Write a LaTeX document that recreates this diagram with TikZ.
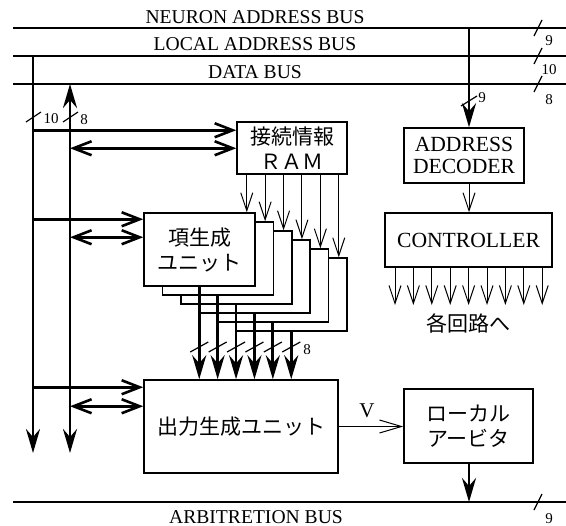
\documentclass[tikz,border=0pt]{standalone}
\usepackage{fontspec}
\setmainfont{Liberation Serif}
\newfontfamily\jp{Noto Sans CJK JP}
\usetikzlibrary{positioning, arrows.meta}

\tikzset{
  box/.style={draw, line width=0.75pt, fill=white, inner sep=0pt, align=center},
  jpbox/.style={box, font={\jp\fontsize{10.5}{12.5}\selectfont}},
  enbox/.style={box, font={\fontsize{10.8}{11}\selectfont}},
  busline/.style={line width=1.4pt},
  fat/.style={line width=1.4pt, -{Stealth[length=12pt,width=7pt,inset=4pt]}},
  fatboth/.style={line width=1.4pt, {Stealth[length=12pt,width=7pt,inset=4pt]}-{Stealth[length=12pt,width=7pt,inset=4pt]}},
  fatbar/.style={line width=1.3pt, -{Straight Barb[length=9pt,width=7pt]}},
  fatbarboth/.style={line width=1.3pt, {Straight Barb[length=9pt,width=7pt]}-{Straight Barb[length=9pt,width=7pt]}},
  thinarr/.style={line width=0.5pt, -{Straight Barb[length=9pt,width=6pt]}},
  tick/.style={line width=0.6pt},
  num/.style={font={\fontsize{7.5}{8}\selectfont}, inner sep=0pt},
  buslabel/.style={font={\fontsize{9.8}{11}\selectfont}, inner sep=0pt},
}

\begin{document}
\begin{tikzpicture}[x=0.5pt, y=-0.5pt]
\useasboundingbox (0,0) rectangle (566,525);

% Bus
\coordinate (nab-w) at (13,28);  \coordinate (nab-e) at (566,28);
\coordinate (lab-w) at (13,56);  \coordinate (lab-e) at (566,56);
\coordinate (db-w) at (13,84);   \coordinate (db-e) at (566,84);
\coordinate (arb-w) at (13,502); \coordinate (arb-e) at (566,502);
\foreach \b in {nab,lab,db,arb}
    \draw[busline] (\b-w) -- (\b-e);

\node[buslabel] (nab-t) at (255,17) {NEURON ADDRESS BUS};
\node[buslabel] (lab-t) at (255,44) {LOCAL ADDRESS BUS};
\node[buslabel] (db-t) at (255,72) {DATA BUS};
\node[buslabel] (arb-t) at (256,517) {ARBITRETION BUS};

% bus widths
\foreach \y/\n/\ny [count=\i] in {28/9/41, 56/10/70, 84/8/100, 502/9/519} {
    \draw[tick] (538,\y) +(-4,8) -- +(4,-8);
    \node[num] (bw\i) at (549,\ny) {\n};
}

% Blocks
\node[jpbox, minimum width=55pt, minimum height=26pt] (ram) at (292,148) {接続情報\\ＲＡＭ};
\foreach \k in {5,4,...,1}
    \node[box, minimum width=55.5pt, minimum height=36.5pt] (u\k) at (199.5+18.4*\k, 249.5+9*\k) {};
\node[jpbox, minimum width=55.5pt, minimum height=36.5pt] (u0) at (199.5,249.5) {項生成\\ユニット};
\node[jpbox, minimum width=97pt, minimum height=46.5pt] (out) at (241,426.5) {出力生成ユニット};
\node[jpbox, minimum width=64.5pt, minimum height=37pt] (arb) at (468.5,426) {ローカル\\アービタ};
\node[enbox, minimum width=60pt, minimum height=27.5pt] (dec) at (464,155.5) {ADDRESS\\DECODER};
\node[enbox, minimum width=83.5pt, minimum height=27pt] (ctrl) at (468.5,240) {CONTROLLER};
\node[font={\jp\fontsize{10.5}{12}\selectfont}, inner sep=0pt] (dest) at (468,323) {各回路へ};

% Left vertical lines
\coordinate (la) at (33,56);  \coordinate (la-end) at (33,453);
\coordinate (da) at (70,84);  \coordinate (da-end) at (70,453);
\draw[fat] (la) -- (la-end);
\draw[fatboth] (da-end) -- (da);
\draw[tick] (33,118) +(-7,4) -- +(8,-6);
\draw[tick] (70,118) +(-7,4) -- +(8,-6);
\node[num] (lw1) at (51,119) {10};
\node[num] (lw2) at (84,120) {8};

% Arrows to the blocks
\coordinate (ram-a) at ([yshift=-4.5pt]ram.north west);
\coordinate (ram-b) at ([yshift=-13.5pt]ram.north west);
\coordinate (u-a) at ([yshift=-3.5pt]u0.north west);
\coordinate (u-b) at ([yshift=-12.5pt]u0.north west);
\coordinate (out-a) at ([yshift=-4pt]out.north west);
\coordinate (out-b) at ([yshift=-13.5pt]out.north west);
\foreach \t in {ram,u,out} {
    \draw[fatbar] (la |- \t-a) -- (\t-a);
    \draw[fatbarboth] (da |- \t-b) -- (\t-b);
}

% RAM -> units, units -> output
\coordinate (sl) at (0,347);
\foreach \k in {0,...,5} {
    \coordinate (t\k) at ([xshift=-4.5pt]u\k.north east);
    \draw[thinarr] (ram.south -| t\k) -- (t\k);
    \coordinate (b\k) at ([xshift=28pt]u\k.south west);
    \draw[fat] (b\k) -- (out.north -| b\k);
    \draw[tick] (b\k |- sl) +(-9,5) -- +(9,-5);
}
\node[num] (ow) at (307,350) {8};

% Decoder and controller
\coordinate (na) at (469,28);
\draw[fat] (na) -- (dec.north -| na);
\draw[tick] (469,101) +(-8,5) -- +(8,-5);
\node[num] (dw) at (482,98) {9};
\draw[thinarr] (dec.south -| na) -- (ctrl.north -| na);
\foreach \i in {0,...,8} {
    \coordinate (c\i) at (395+18.4*\i, 305);
    \draw[thinarr] (ctrl.south -| c\i) -- (c\i);
}

% Output -> arbiter -> bus
\draw[line width=0.5pt, -{Straight Barb[length=11pt,width=6.5pt]}] (out.east) -- (arb.west |- out.east);
\node[font={\fontsize{10.5}{12}\selectfont}, inner sep=0pt] (vl) at (367,411) {V};
\coordinate (ab) at (469,502);
\draw[fat] (arb.south -| ab) -- (ab);

\end{tikzpicture}
\end{document}
